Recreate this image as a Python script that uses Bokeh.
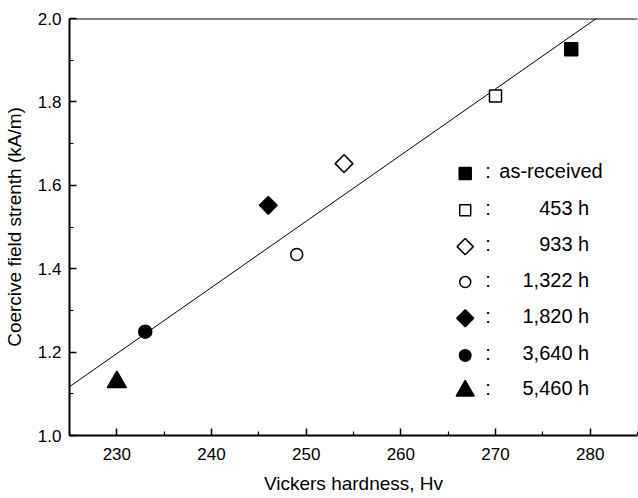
import numpy as np
from bokeh.plotting import figure
from bokeh.models import FixedTicker, Range1d, Span, NumeralTickFormatter
from bokeh.core.properties import value
from bokeh.embed import file_html
from bokeh.resources import INLINE

# ---- data ----
series_labels = ["as-received", "453 h", "933 h", "1,322 h", "1,820 h", "3,640 h", "5,460 h"]
hardness = [278, 270, 254, 249, 246, 233, 230]
coercive = [1.926, 1.814, 1.652, 1.434, 1.552, 1.249, 1.128]
x_ticks = [230, 240, 250, 260, 270, 280]
x_minor = [225, 235, 245, 255, 265, 275, 285]
y_ticks = [1.0, 1.2, 1.4, 1.6, 1.8, 2.0]
y_minor = [1.1, 1.3, 1.5, 1.7, 1.9]

# marker styles for each series
markers = ["square", "square", "square", "circle", "square", "circle", "triangle"]
angles = [0, 0, np.pi / 4, 0, np.pi / 4, 0, 0]
fills = ["black", "white", "white", "white", "black", "black", "black"]
sizes = [13, 12, 12.5, 12, 12.5, 13, 19]
leg_sizes = [12, 11, 11.5, 11, 12, 11.5, 18]

FONT = "Liberation Sans"

p = figure(width=638, height=498, x_range=Range1d(225, 285), y_range=Range1d(1.0, 2.0),
           output_backend="svg", toolbar_location=None,
           min_border_left=68, min_border_right=1, min_border_top=18, min_border_bottom=63)
p.outline_line_color = None
p.grid.visible = False
p.background_fill_color = "white"
p.border_fill_color = "white"

for ax in (p.xaxis[0], p.yaxis[0]):
    ax.axis_line_width = 2
    ax.axis_line_color = "black"
    ax.major_tick_in = 7
    ax.major_tick_out = 0
    ax.minor_tick_in = 4
    ax.minor_tick_out = 0
    ax.major_tick_line_width = 1.5
    ax.minor_tick_line_width = 1.2
    ax.major_tick_line_color = "black"
    ax.minor_tick_line_color = "black"
    ax.major_label_text_font = FONT
    ax.major_label_text_font_size = "17px"
    ax.major_label_text_color = "black"
    ax.axis_label_text_font = FONT
    ax.axis_label_text_font_size = "19px"
    ax.axis_label_text_font_style = "normal"
    ax.axis_label_text_color = "black"

p.xaxis[0].ticker = FixedTicker(ticks=x_ticks, minor_ticks=x_minor)
p.yaxis[0].ticker = FixedTicker(ticks=y_ticks, minor_ticks=y_minor)
p.yaxis[0].formatter = NumeralTickFormatter(format="0.0")
p.xaxis[0].major_label_standoff = 12
p.yaxis[0].major_label_standoff = 8

p.xaxis[0].axis_label = "Vickers hardness, Hv"
p.xaxis[0].axis_label_standoff = 10
p.yaxis[0].axis_label = "Coercive field strenth (kA/m)"
p.yaxis[0].axis_label_standoff = 10

# frame top and right edges
p.add_layout(Span(location=2.0, dimension="width", line_color="black", line_width=2))
p.add_layout(Span(location=285, dimension="height", line_color="#c8c8c8", line_width=1, line_dash="2 2"))

# least-squares fit line
fit = np.polyfit(hardness, coercive, 1)
fx = np.array([225.0, 285.0])
p.line(fx, np.polyval(fit, fx), line_color="black", line_width=1)

# data points
for i in range(len(hardness)):
    p.scatter([hardness[i]], [coercive[i]], marker=markers[i], size=sizes[i], angle=angles[i],
              fill_color=fills[i], line_color="black", line_width=1.5)

# legend (layout positions in data units)
leg_y = [1.628, 1.540, 1.453, 1.368, 1.281, 1.192, 1.107]
leg_ty = [v + 0.006 for v in leg_y]
leg_mx, leg_cx, leg_tl, leg_tr = 266.8, 269.2, 270.4, 279.9
for i in range(len(series_labels)):
    p.scatter([leg_mx], [leg_y[i]], marker=markers[i], size=leg_sizes[i], angle=angles[i],
              fill_color=fills[i], line_color="black", line_width=1.5)
p.text(x=[leg_cx] * 7, y=leg_ty, text=[":"] * 7, text_align="center", text_baseline="middle",
       text_font=value(FONT), text_font_size="20px", text_color="black")
p.text(x=[leg_tl], y=[leg_ty[0]], text=[series_labels[0]], text_align="left", text_baseline="middle",
       text_font=value(FONT), text_font_size="20px", text_color="black")
p.text(x=[leg_tr] * 6, y=leg_ty[1:], text=series_labels[1:], text_align="right", text_baseline="middle",
       text_font=value(FONT), text_font_size="20px", text_color="black")

open("out.html", "w").write(file_html(p, INLINE))
